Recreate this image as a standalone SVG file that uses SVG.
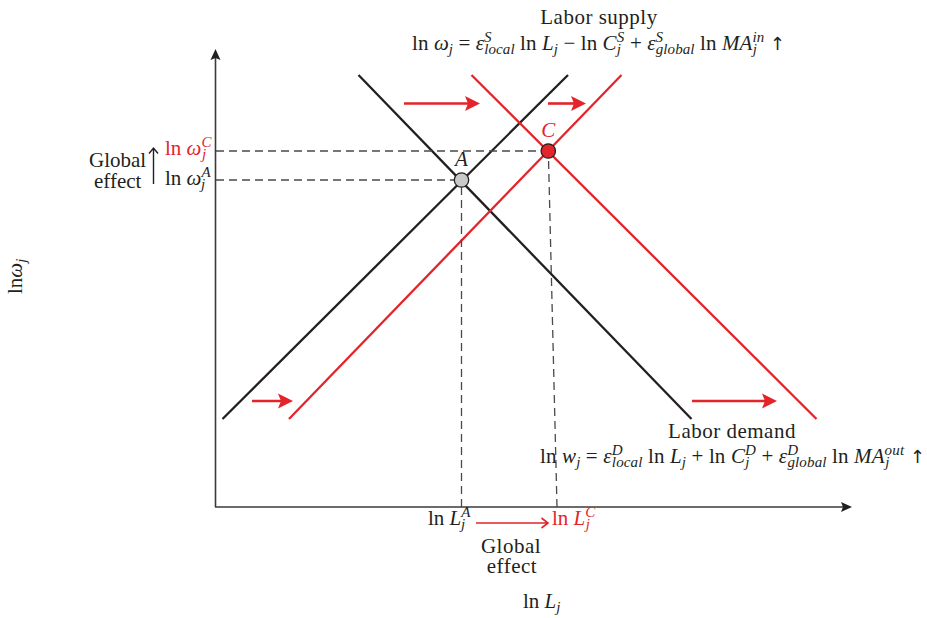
<svg xmlns="http://www.w3.org/2000/svg" width="927" height="618" viewBox="0 0 927 618">
<style>
.t{font-family:"Liberation Serif","Times New Roman",serif;font-size:21px;fill:#231f20}
.w{letter-spacing:0.5px}
.s{font-size:15px}
.i{font-style:italic}
.arr{font-family:"DejaVu Sans",sans-serif;font-size:18px}
.red{fill:#e3242b}
.blk{stroke:#231f20;stroke-width:2.3;fill:none}
.rl{stroke:#e3242b;stroke-width:2.3;fill:none}
.dash{stroke:#4a4a4a;stroke-width:1.3;stroke-dasharray:8 5;fill:none}
.axis{stroke:#3a3a3a;stroke-width:1.6;fill:none}
.ra{stroke:#e3242b;stroke-width:2.6;fill:none}
</style>
<defs>
<marker id="axhead" markerUnits="userSpaceOnUse" markerWidth="14" markerHeight="12" refX="4" refY="0" orient="auto" overflow="visible">
<path d="M0,-5 L11,0 L0,5 L2,0 Z" fill="#231f20"/>
</marker>
<marker id="redhead" markerUnits="userSpaceOnUse" markerWidth="18" markerHeight="16" refX="7" refY="0" orient="auto" overflow="visible">
<path d="M0,-7.5 L15,0 L0,7.5 L3,0 Z" fill="#e3242b"/>
</marker>
</defs>
<rect width="927" height="618" fill="#ffffff"/>

<g id="axes">
<line class="axis" x1="215.5" y1="507" x2="215.5" y2="56" marker-end="url(#axhead)"/>
<line class="axis" x1="215" y1="507" x2="845" y2="507" marker-end="url(#axhead)"/>
</g>

<g id="connectors">
<line id="supply-A" class="blk" x1="222.5" y1="419" x2="568" y2="75"/>
<line id="demand-A" class="blk" x1="358.5" y1="75" x2="691.5" y2="419"/>
<line id="supply-C" class="rl" x1="289" y1="419" x2="621.5" y2="75"/>
<line id="demand-C" class="rl" x1="471.5" y1="75" x2="816.5" y2="419"/>
<line class="dash" x1="216" y1="151" x2="541" y2="151"/>
<line class="dash" x1="216" y1="180" x2="454" y2="180"/>
<line class="dash" x1="461.5" y1="507" x2="461.5" y2="187"/>
<line class="dash" x1="557" y1="507" x2="548.5" y2="158"/>
<line class="ra" x1="404" y1="103.5" x2="472" y2="103.5" marker-end="url(#redhead)"/>
<line class="ra" x1="548" y1="103.5" x2="578" y2="103.5" marker-end="url(#redhead)"/>
<line class="ra" x1="252" y1="401" x2="285" y2="401" marker-end="url(#redhead)"/>
<line class="ra" x1="692" y1="401" x2="769" y2="401" marker-end="url(#redhead)"/>
<path d="M476,523 H548 M541.5,518 L548,523 L541.5,528" stroke="#e3242b" stroke-width="1.6" fill="none"/>
<path d="M153.5,184 V148 M149,153.5 L153.5,148 L158,153.5" stroke="#231f20" stroke-width="1.4" fill="none"/>
</g>

<g id="node-A">
<circle cx="461.5" cy="180" r="7.2" fill="#c8c9cb" stroke="#231f20" stroke-width="1.3"/>
<text class="t i" x="461.5" y="166" text-anchor="middle">A</text>
</g>
<g id="node-C">
<circle cx="548.3" cy="151" r="7.2" fill="#e3242b" stroke="#231f20" stroke-width="1.3"/>
<text class="t i red" x="548.3" y="137" text-anchor="middle">C</text>
</g>

<g id="labels">
<text class="t w" x="599" y="24" text-anchor="middle">Labor supply</text>
<text class="t" x="412" y="50" textLength="373" lengthAdjust="spacing"><tspan>ln </tspan><tspan class="i">ω</tspan><tspan class="s i" dy="4">j</tspan><tspan dy="-4"> = </tspan><tspan class="i">ε</tspan><tspan class="s i" dy="-8">S</tspan><tspan class="s i" dx="-7.5" dy="12">local</tspan><tspan dy="-4"> ln </tspan><tspan class="i">L</tspan><tspan class="s i" dy="4">j</tspan><tspan dy="-4"> − ln </tspan><tspan class="i">C</tspan><tspan class="s i" dy="-8">S</tspan><tspan class="s i" dx="-7.5" dy="12">j</tspan><tspan dx="3.5" dy="-4"> + </tspan><tspan class="i">ε</tspan><tspan class="s i" dy="-8">S</tspan><tspan class="s i" dx="-7.5" dy="12">global</tspan><tspan dy="-4"> ln </tspan><tspan class="i">MA</tspan><tspan class="s i" dy="-8">in</tspan><tspan class="s i" dx="-11.5" dy="12">j</tspan><tspan dx="7.5" dy="-4"> </tspan><tspan class="arr">↑</tspan></text>

<text class="t w" x="732" y="438" text-anchor="middle">Labor demand</text>
<text class="t" x="540" y="463" textLength="385" lengthAdjust="spacing"><tspan>ln </tspan><tspan class="i">w</tspan><tspan class="s i" dy="4">j</tspan><tspan dy="-4"> = </tspan><tspan class="i">ε</tspan><tspan class="s i" dy="-8">D</tspan><tspan class="s i" dx="-10.8" dy="12">local</tspan><tspan dy="-4"> ln </tspan><tspan class="i">L</tspan><tspan class="s i" dy="4">j</tspan><tspan dy="-4"> + ln </tspan><tspan class="i">C</tspan><tspan class="s i" dy="-8">D</tspan><tspan class="s i" dx="-10.8" dy="12">j</tspan><tspan dx="6.5" dy="-4"> + </tspan><tspan class="i">ε</tspan><tspan class="s i" dy="-8">D</tspan><tspan class="s i" dx="-10.8" dy="12">global</tspan><tspan dy="-4"> ln </tspan><tspan class="i">MA</tspan><tspan class="s i" dy="-8">out</tspan><tspan class="s i" dx="-19" dy="12">j</tspan><tspan dx="15" dy="-4"> </tspan><tspan class="arr">↑</tspan></text>

<text class="t" x="89" y="167">Global</text>
<text class="t" x="94" y="188">effect</text>
<text class="t red" x="165" y="155"><tspan>ln </tspan><tspan class="i">ω</tspan><tspan class="s i" dy="-8">C</tspan><tspan class="s i" dx="-9.5" dy="12">j</tspan></text>
<text class="t" x="165" y="185"><tspan>ln </tspan><tspan class="i">ω</tspan><tspan class="s i" dy="-8">A</tspan><tspan class="s i" dx="-9.5" dy="12">j</tspan></text>

<text class="t" x="428" y="525"><tspan>ln </tspan><tspan class="i">L</tspan><tspan class="s i" dy="-8">A</tspan><tspan class="s i" dx="-9.5" dy="12">j</tspan></text>
<text class="t red" x="552" y="525"><tspan>ln </tspan><tspan class="i">L</tspan><tspan class="s i" dy="-8">C</tspan><tspan class="s i" dx="-9.5" dy="12">j</tspan></text>
<text class="t w" x="511" y="553" text-anchor="middle">Global</text>
<text class="t w" x="512" y="573" text-anchor="middle">effect</text>
<text class="t" x="523" y="608"><tspan>ln </tspan><tspan class="i">L</tspan><tspan class="s i" dy="4">j</tspan></text>

<text class="t" transform="translate(22,294) rotate(-90)"><tspan>ln</tspan><tspan class="i">ω</tspan><tspan class="s i" dy="4">j</tspan></text>
</g>
</svg>
